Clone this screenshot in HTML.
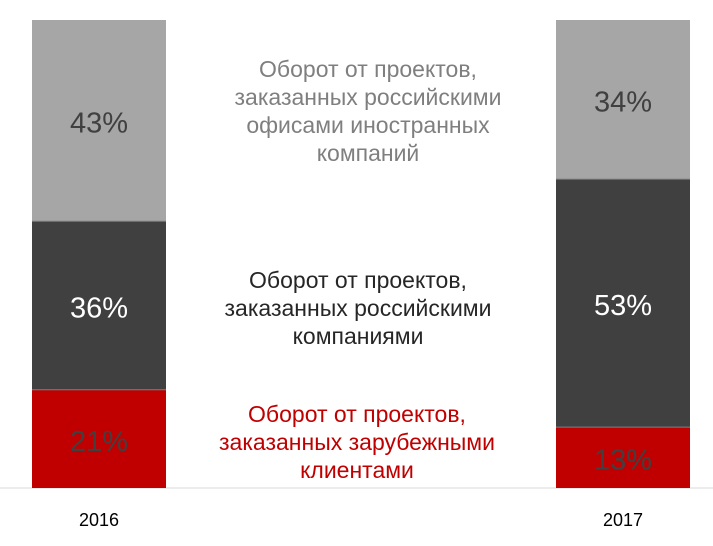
<!DOCTYPE html>
<html><head><meta charset="utf-8"><style>
body{margin:0;background:#fff;width:713px;height:541px;overflow:hidden;font-family:"Liberation Sans","DejaVu Sans",sans-serif}
svg text{font-family:"Liberation Sans","DejaVu Sans",sans-serif}
</style></head><body>
<svg id="chart" width="713" height="541">
<line x1="0" x2="713" y1="488" y2="488" stroke="#d9d9d9" stroke-width="1"/>
<g id="bars"></g>
<g fill="#7f7f7f" font-size="23" text-anchor="middle">
<text x="368" y="77">Оборот от проектов,</text><text x="368" y="105">заказанных российскими</text><text x="368" y="133">офисами иностранных</text><text x="368" y="161">компаний</text></g>
<g fill="#262626" font-size="23" text-anchor="middle">
<text x="358" y="288">Оборот от проектов,</text><text x="358" y="316">заказанных российскими</text><text x="358" y="344">компаниями</text></g>
<g fill="#c00000" font-size="23" text-anchor="middle">
<text x="357" y="422">Оборот от проектов,</text><text x="357" y="450">заказанных зарубежными</text><text x="357" y="478">клиентами</text></g>
</svg>
<script>
const categories = ["2016", "2017"];
const foreignClients = [21, 13];
const russianCompanies = [36, 53];
const foreignOffices = [43, 34];
const barX = [32, 556];
const barW = 134, plotTop = 20, base = 488;
const yScale = v => (base - plotTop) * v / 100;
const ns = "http://www.w3.org/2000/svg";
const g = document.getElementById('bars');
const series = [
 {vals: foreignClients, fill: "#c00000", txt: "#404040", name: "foreign-clients"},
 {vals: russianCompanies, fill: "#404040", txt: "#ffffff", name: "russian-companies"},
 {vals: foreignOffices, fill: "#a6a6a6", txt: "#404040", name: "foreign-offices"}
];
categories.forEach((c, i) => {
  let cum = 0;
  series.forEach(s => {
    const v = s.vals[i];
    const h = yScale(v), yt = base - yScale(cum) - h;
    const r = document.createElementNS(ns, 'rect');
    r.setAttribute('x', barX[i]); r.setAttribute('y', yt);
    r.setAttribute('width', barW); r.setAttribute('height', h);
    r.setAttribute('fill', s.fill);
    
    
    g.appendChild(r);
    const t = document.createElementNS(ns, 'text');
    t.setAttribute('x', barX[i] + barW / 2); t.setAttribute('y', yt + h / 2 + 12);
    t.setAttribute('text-anchor', 'middle'); t.setAttribute('font-size', '29');
    t.setAttribute('fill', s.txt);
    t.textContent = v + '%';
    
    
    g.appendChild(t);
    if (cum > 0) {
      const l = document.createElementNS(ns, 'line');
      l.setAttribute('x1', barX[i]); l.setAttribute('x2', barX[i] + barW);
      l.setAttribute('y1', yt + h); l.setAttribute('y2', yt + h);
      l.setAttribute('stroke', '#7f7f7f'); l.setAttribute('stroke-width', '1');
      
      
      g.appendChild(l);
    }
    cum += v;
  });
  const lab = document.createElementNS(ns, 'text');
  lab.setAttribute('x', barX[i] + barW / 2); lab.setAttribute('y', 526);
  lab.setAttribute('text-anchor', 'middle'); lab.setAttribute('font-size', '18');
  lab.setAttribute('fill', '#000');
  lab.textContent = c;
  
  
  g.appendChild(lab);
});
</script>
</body></html>
